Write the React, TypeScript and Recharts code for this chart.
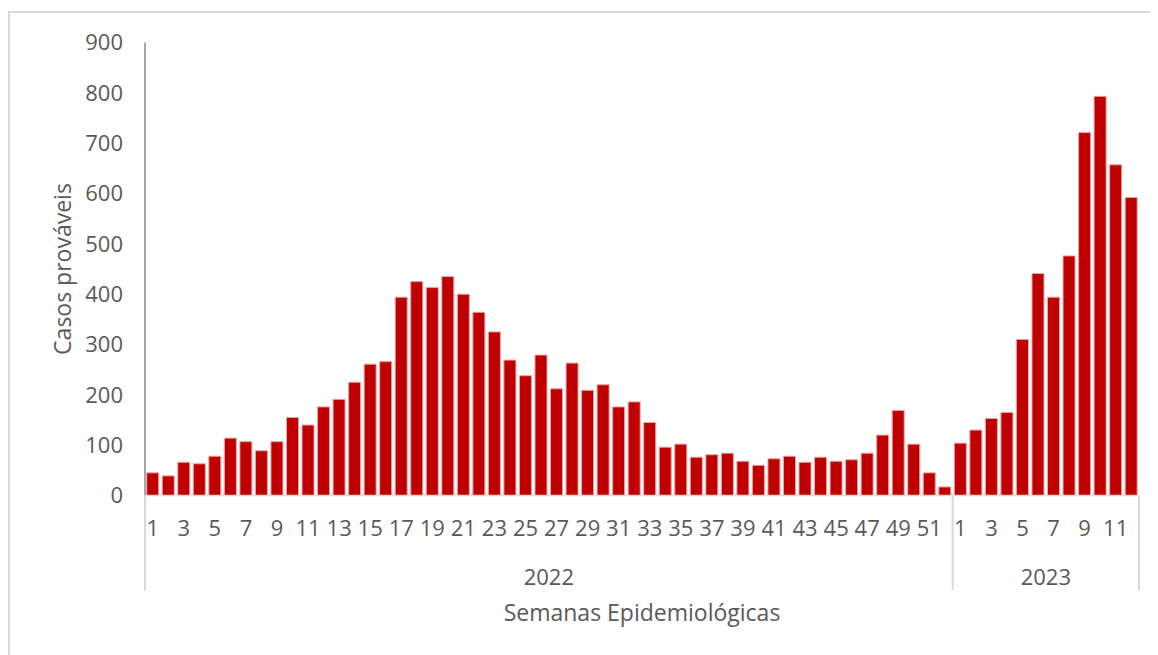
import React from "react";
import { BarChart, Bar, XAxis, YAxis } from "recharts";

const cases2022 = [45, 39, 66, 63, 78, 114, 107, 89, 107, 155, 140, 176, 191, 225, 261, 266, 394, 425, 413, 435, 400, 364, 325, 269, 238, 279, 212, 263, 209, 220, 176, 186, 145, 96, 102, 76, 81, 84, 68, 60, 73, 78, 66, 76, 68, 71, 84, 120, 169, 102, 45, 17];
const cases2023 = [104, 130, 153, 165, 310, 441, 394, 476, 721, 793, 657, 592];
const years = ["2022", "2023"];
const yTicks = [0, 100, 200, 300, 400, 500, 600, 700, 800, 900];

const data = [
  ...cases2022.map((v, i) => ({ id: `${years[0]}-${i + 1}`, year: years[0], week: i + 1, cases: v })),
  ...cases2023.map((v, i) => ({ id: `${years[1]}-${i + 1}`, year: years[1], week: i + 1, cases: v })),
];

const W = 1150;
const H = 647;
const MARGIN = { top: 34.5, right: 19, bottom: 29.5, left: 0 };
const Y_W = 137;
const X_H = 130;
const PLOT_W = W - MARGIN.left - MARGIN.right - Y_W;
const BAND = PLOT_W / data.length;
const FONT = "'Open Sans', sans-serif";
const TEXT = "#595959";
const FS = 22;
const FS_T = 23;

function WeekTick(props: any) {
  const { x, y, payload } = props;
  const row = data.find((d) => d.id === payload.value);
  if (!row) return null;
  const idx = data.indexOf(row);
  const els: any[] = [];
  if (row.week % 2 === 1) {
    els.push(
      <text key="w" x={x} y={y + 31.5} textAnchor="middle" dominantBaseline="central" fill={TEXT} fontSize={FS} fontFamily={FONT}>
        {row.week}
      </text>
    );
  }
  if (row.week === 1) {
    const n = data.filter((d) => d.year === row.year).length;
    const left = x - BAND / 2;
    els.push(<line key="s" x1={left} x2={left} y1={y} y2={y + 95} stroke="#d9d9d9" strokeWidth={2} />);
    els.push(
      <text key="y" x={left + (n * BAND) / 2} y={y + 80} textAnchor="middle" dominantBaseline="central" fill={TEXT} fontSize={FS} fontFamily={FONT}>
        {row.year}
      </text>
    );
  }
  if (idx === data.length - 1) {
    const right = x + BAND / 2;
    els.push(<line key="e" x1={right} x2={right} y1={y} y2={y + 95} stroke="#d9d9d9" strokeWidth={2} />);
  }
  return <g>{els}</g>;
}

function XTitle(props: any) {
  const vb = props.viewBox || {};
  const cx = (vb.x ?? Y_W) + (vb.width ?? PLOT_W) / 2;
  const top = vb.y ?? 487.5;
  return (
    <text x={cx} y={top + 116.5} textAnchor="middle" dominantBaseline="central" fill={TEXT} fontSize={FS_T} fontFamily={FONT}>
      Semanas Epidemiológicas
    </text>
  );
}

function YTitle(props: any) {
  const vb = props.viewBox || {};
  const cy = (vb.y ?? 34.5) + (vb.height ?? 453) / 2;
  const cx = 54;
  return (
    <text x={cx} y={cy} textAnchor="middle" dominantBaseline="central" fill={TEXT} fontSize={FS_T} fontFamily={FONT} transform={`rotate(-90 ${cx} ${cy})`}>
      Casos prováveis
    </text>
  );
}

export default function App() {
  return (
    <div style={{ position: "relative", width: W, height: H }}>
      <style>{`body{overflow:hidden;background:#fff}`}</style>
      <div
        style={{
          position: "absolute",
          left: 0,
          top: 3,
          width: W + 20,
          height: H + 20,
          borderTop: "2px solid #d9d9d9",
          borderLeft: "2px solid #d9d9d9",
          boxSizing: "border-box",
        }}
      />
      <div style={{ position: "absolute", left: 0, top: 0 }}>
        <BarChart width={W} height={H} data={data} margin={MARGIN} barCategoryGap="11%">
          <XAxis
            dataKey="id"
            interval={0}
            tickSize={0}
            tickMargin={0}
            tickLine={false}
            height={X_H}
            axisLine={{ stroke: "#d9d9d9", strokeWidth: 1.5 }}
            tick={<WeekTick />}
            label={<XTitle />}
          />
          <YAxis
            domain={[0, 900]}
            ticks={yTicks}
            width={Y_W}
            tickLine={false}
            tickSize={8}
            tickMargin={14}
            axisLine={{ stroke: "#a6a6a6", strokeWidth: 2 }}
            tick={{ fill: TEXT, fontSize: FS, fontFamily: FONT }}
            label={<YTitle />}
          />
          <Bar dataKey="cases" fill="#c00000" stroke="#eaa3a3" strokeWidth={1} isAnimationActive={false} />
        </BarChart>
      </div>
    </div>
  );
}
